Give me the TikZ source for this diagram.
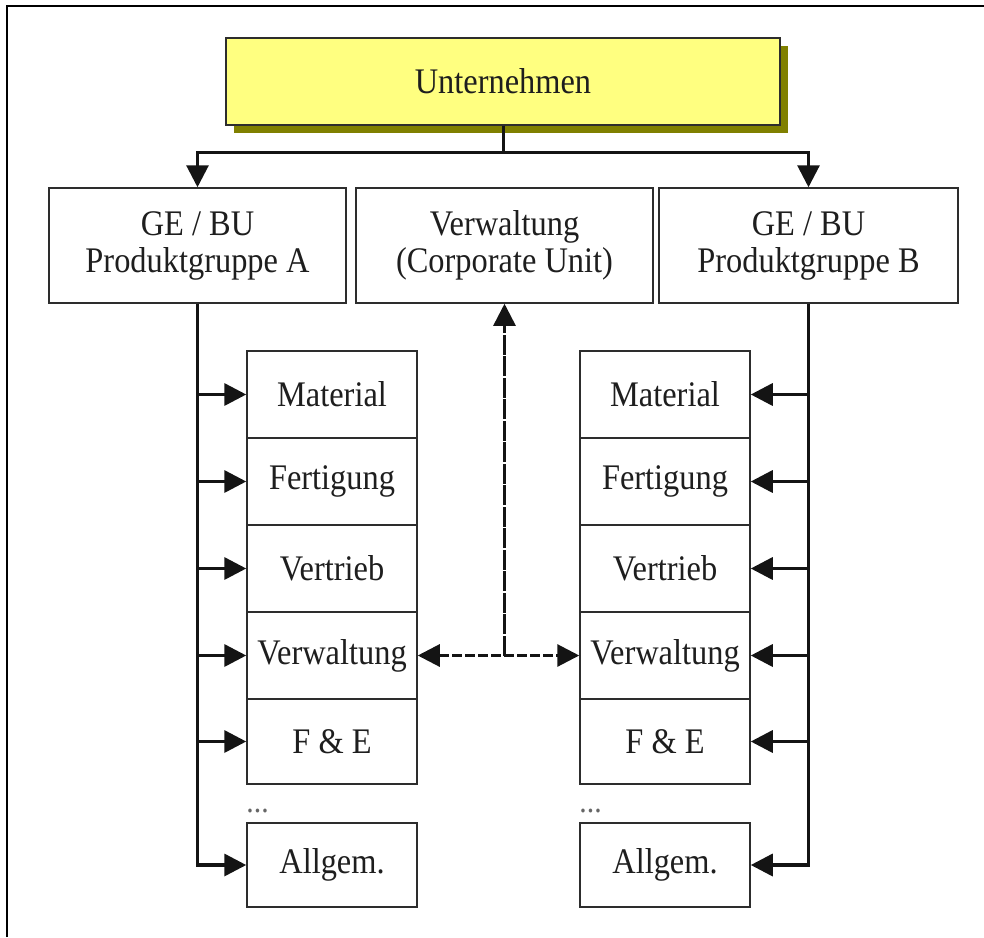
\documentclass[tikz,border=0pt]{standalone}
\usepackage{fontspec}
\setmainfont[FakeStretch=0.9]{Liberation Serif}
\usetikzlibrary{arrows.meta}
\definecolor{uyellow}{RGB}{255,255,128}
\definecolor{ushadow}{RGB}{128,128,0}
\definecolor{boxline}{RGB}{45,45,45}
\definecolor{txt}{RGB}{30,30,30}
\begin{document}
\begin{tikzpicture}[x=1pt,y=-1pt,
  box/.style={draw=boxline, line width=1.5pt, fill=white, inner sep=0pt,
    font=\fontsize{36}{37}\selectfont, text=txt, align=center},
  conn/.style={line width=3.5pt, draw=black!92},
  arr/.style={conn, -{Triangle[length=22pt,width=22pt]}},
  dotsstyle/.style={font=\fontsize{33}{36}\selectfont, text=black!60, inner sep=0pt, anchor=base west}
  ]
\useasboundingbox (0,0) rectangle (984,937);
\draw[line width=2pt] (7,937) -- (7,6) -- (984,6);

% top company box with shadow
\fill[ushadow] (234,46) rectangle (788,133);
\node[box, fill=uyellow, minimum width=554pt, minimum height=87pt] (u) at (503,81.5) {Unternehmen};

% second row
\node[box, minimum width=297pt, minimum height=115pt] (gea) at (197.5,245.5) {GE / BU\\Produktgruppe A};
\node[box, minimum width=297pt, minimum height=115pt] (vw) at (504.5,245.5) {Verwaltung\\(Corporate Unit)};
\node[box, minimum width=299pt, minimum height=115pt] (geb) at (808.5,245.5) {GE / BU\\Produktgruppe B};

% left column
\node[box, minimum width=170pt, minimum height=87pt] (lM) at (332,394.5) {Material};
\node[box, minimum width=170pt, minimum height=87pt] (lF) at (332,481.5) {Fertigung};
\node[box, minimum width=170pt, minimum height=87pt] (lR) at (332,568.5) {Vertrieb};
\node[box, minimum width=170pt, minimum height=87pt] (lV) at (332,655.5) {Verwaltung};
\node[box, minimum width=170pt, minimum height=85pt] (lE) at (332,741.5) {F \& E};
\node[box, minimum width=170pt, minimum height=84pt] (lA) at (332,865) {Allgem.};
\node[dotsstyle] (ldots) at ([yshift=10pt]lA.north west) {...};

% right column
\node[box, minimum width=170pt, minimum height=87pt] (rM) at (665,394.5) {Material};
\node[box, minimum width=170pt, minimum height=87pt] (rF) at (665,481.5) {Fertigung};
\node[box, minimum width=170pt, minimum height=87pt] (rR) at (665,568.5) {Vertrieb};
\node[box, minimum width=170pt, minimum height=87pt] (rV) at (665,655.5) {Verwaltung};
\node[box, minimum width=170pt, minimum height=85pt] (rE) at (665,741.5) {F \& E};
\node[box, minimum width=170pt, minimum height=84pt] (rA) at (665,865) {Allgem.};
\node[dotsstyle] (rdots) at ([yshift=10pt]rA.north west) {...};

% top connectors
\draw[arr, line width=3pt] (u.south) -- ++(0,27) -| (gea.north);
\draw[arr, line width=3pt] (u.south) -- ++(0,27) -| (geb.north);

% left bus
\draw[arr] (gea.south) |- (lA.west);
\foreach \n in {lM,lF,lR,lV,lE}
  \draw[arr] (gea.south |- \n.west) -- (\n.west);

% right bus
\draw[arr] (geb.south) |- (rA.east);
\foreach \n in {rM,rF,rR,rV,rE}
  \draw[arr] (geb.south |- \n.east) -- (\n.east);

% central corporate link
\draw[line width=2.6pt, draw=black!92, dash pattern=on 20pt off 1.5pt,
  -{Triangle[length=22pt,width=22pt]}] (lV.east -| vw.south) -- (vw.south);
\draw[line width=3pt, draw=black!92, dash pattern=on 10pt off 3pt,
  {Triangle[length=22pt,width=22pt]}-{Triangle[length=22pt,width=22pt]}] (lV.east) -- (rV.west);
\end{tikzpicture}
\end{document}
